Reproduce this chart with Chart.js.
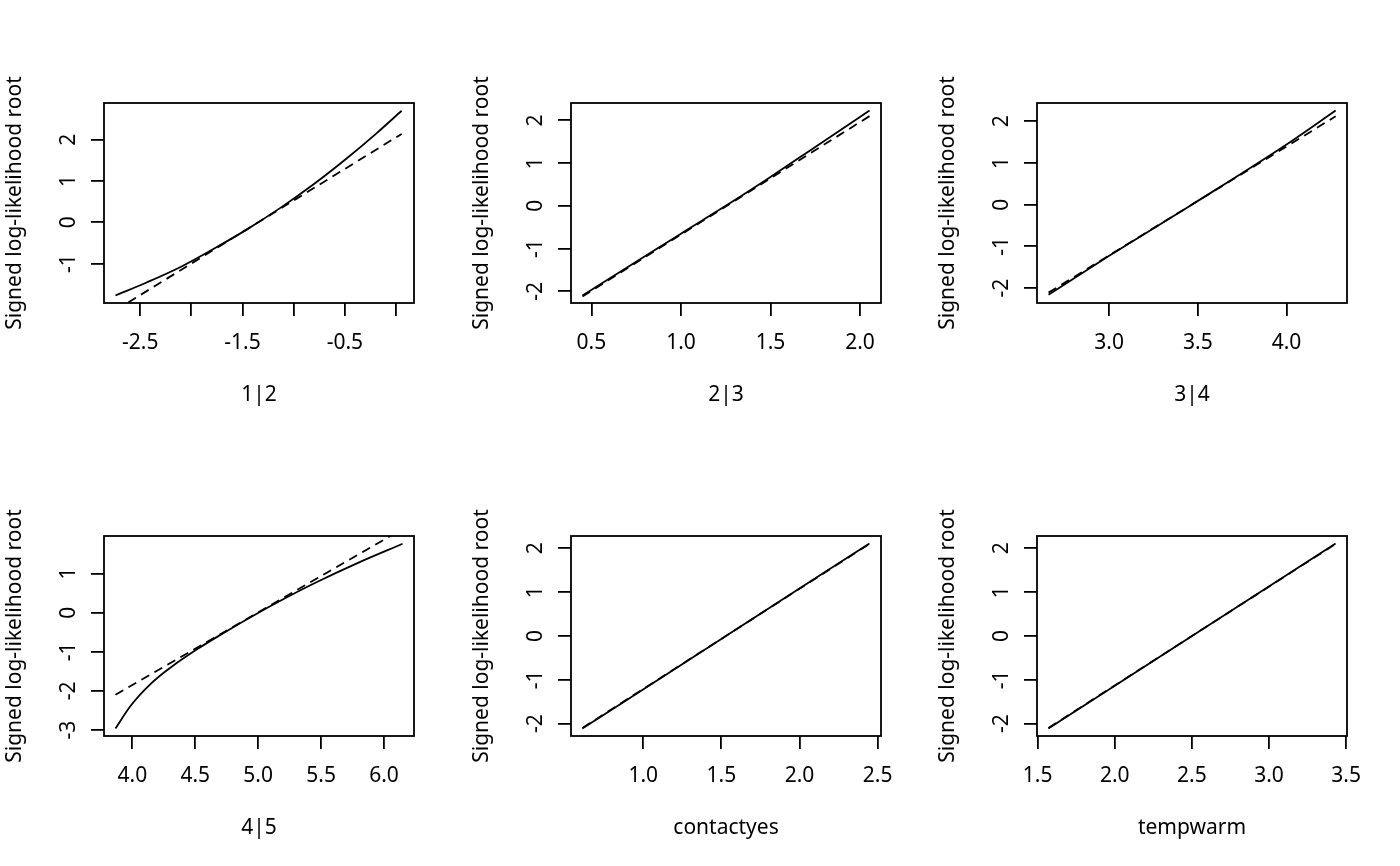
<!DOCTYPE html>
<html>
<head>
<meta charset="utf-8">
<script src="https://cdn.jsdelivr.net/npm/chart.js@4"></script>
<style>
  body { margin: 0; background: #fff; }
  #wrap { position: relative; width: 1400px; height: 866px; }
  #wrap canvas { position: absolute; }
</style>
</head>
<body>
<div id="wrap"></div>
<script>
// parameter names (one panel each)
const paramNames = ['1|2', '2|3', '3|4', '4|5', 'contactyes', 'tempwarm'];

// profile curves (solid)
const prof1X = [-2.742, -2.432, -2.106, -1.781, -1.456, -1.130, -0.805, -0.480, -0.188, 0.055];
const prof1Y = [-1.770, -1.450, -1.080, -0.640, -0.170, 0.350, 0.920, 1.550, 2.160, 2.700];
const prof2X = [0.450, 0.750, 1.000, 1.250, 1.500, 1.750, 2.053];
const prof2Y = [-2.100, -1.310, -0.650, 0.000, 0.675, 1.380, 2.233];
const prof3X = [2.658, 3.000, 3.466, 4.000, 4.277];
const prof3Y = [-2.160, -1.228, 0.000, 1.445, 2.260];
const prof4X = [3.866, 3.987, 4.146, 4.305, 4.517, 4.729, 4.967, 5.206, 5.471, 5.789, 6.147];
const prof4Y = [-2.960, -2.380, -1.820, -1.400, -0.930, -0.510, -0.063, 0.358, 0.793, 1.270, 1.764];
const prof5X = [0.610, 1.529, 2.448];
const prof5Y = [-2.114, 0.000, 2.112];
const prof6X = [1.570, 2.501, 3.432];
const prof6Y = [-2.110, 0.000, 2.110];

// quadratic (Wald) approximation (dashed)
const approx1X = [-2.742, 0.055];
const approx1Y = [-2.130, 2.140];
const approx2X = [0.450, 2.053];
const approx2Y = [-2.120, 2.100];
const approx3X = [2.658, 4.277];
const approx3Y = [-2.110, 2.120];
const approx4X = [3.866, 6.147];
const approx4Y = [-2.100, 2.140];
const approx5X = [0.610, 2.448];
const approx5Y = [-2.100, 2.100];
const approx6X = [1.570, 3.432];
const approx6Y = [-2.100, 2.100];

// axis ticks and labels
const xTicks = [
  [-2.5, -2, -1.5, -1, -0.5, 0],
  [0.5, 1, 1.5, 2],
  [3, 3.5, 4],
  [4, 4.5, 5, 5.5, 6],
  [1, 1.5, 2, 2.5],
  [1.5, 2, 2.5, 3, 3.5]
];
const xTickLabels = [
  ['-2.5', '', '-1.5', '', '-0.5', ''],
  ['0.5', '1.0', '1.5', '2.0'],
  ['3.0', '3.5', '4.0'],
  ['4.0', '4.5', '5.0', '5.5', '6.0'],
  ['1.0', '1.5', '2.0', '2.5'],
  ['1.5', '2.0', '2.5', '3.0', '3.5']
];
const yTicks = [
  [-1, 0, 1, 2],
  [-2, -1, 0, 1, 2],
  [-2, -1, 0, 1, 2],
  [-3, -2, -1, 0, 1],
  [-2, -1, 0, 1, 2],
  [-2, -1, 0, 1, 2]
];
const yTitle = 'Signed log-likelihood root';

// plot region ranges (as in the R device)
const xRanges = [[-2.854, 0.176], [0.386, 2.117], [2.593, 4.341], [3.775, 6.238], [0.537, 2.522], [1.496, 3.506]];
const yRanges = [[-1.952, 2.888], [-2.273, 2.407], [-2.359, 2.440], [-3.153, 1.962], [-2.283, 2.281], [-2.283, 2.281]];

const profX = [prof1X, prof2X, prof3X, prof4X, prof5X, prof6X];
const profY = [prof1Y, prof2Y, prof3Y, prof4Y, prof5Y, prof6Y];
const apprX = [approx1X, approx2X, approx3X, approx4X, approx5X, approx6X];
const apprY = [approx1Y, approx2Y, approx3Y, approx4Y, approx5Y, approx6Y];

Chart.defaults.font.family = "'Noto Sans', 'Open Sans', sans-serif";
Chart.defaults.font.size = 21;
Chart.defaults.color = '#000';

const LW = 1.8;

const boxPlugin = {
  id: 'box',
  afterDraw(chart) {
    const a = chart.chartArea;
    const ctx = chart.ctx;
    ctx.save();
    ctx.strokeStyle = '#000';
    ctx.lineWidth = LW;
    ctx.strokeRect(a.left, a.top, a.right - a.left, a.bottom - a.top);
    ctx.restore();
  }
};

function toPoints(xs, ys) {
  return xs.map((x, i) => ({x: x, y: ys[i]}));
}

const wrap = document.getElementById('wrap');
for (let i = 0; i < 6; i++) {
  const col = i % 3, row = Math.floor(i / 3);
  const cv = document.createElement('canvas');
  cv.width = 467;
  cv.height = 433;
  cv.style.left = Math.round(col * 466.67) + 'px';
  cv.style.top = (row * 433) + 'px';
  wrap.appendChild(cv);

  new Chart(cv, {
    type: 'scatter',
    data: {
      datasets: [{
        data: toPoints(profX[i], profY[i]),
        showLine: true,
        borderColor: '#000',
        borderWidth: LW,
        pointRadius: 0,
        cubicInterpolationMode: 'monotone'
      }, {
        data: toPoints(apprX[i], apprY[i]),
        showLine: true,
        borderColor: '#000',
        borderWidth: LW,
        borderDash: [9, 6],
        pointRadius: 0
      }]
    },
    options: {
      responsive: false,
      animation: false,
      layout: { padding: { left: 0, top: 103, right: 53, bottom: 0 } },
      plugins: { legend: { display: false }, tooltip: { enabled: false } },
      scales: {
        x: {
          type: 'linear',
          position: 'bottom',
          min: xRanges[i][0],
          max: xRanges[i][1],
          afterBuildTicks: s => { s.ticks = xTicks[i].map(v => ({value: v})); },
          afterFit: s => { s.height = 130; },
          ticks: {
            autoSkip: false,
            maxRotation: 0,
            padding: 14.5,
            callback: (v, idx) => xTickLabels[i][idx]
          },
          grid: { drawOnChartArea: false, drawTicks: true, tickLength: 13, color: '#000', lineWidth: LW },
          border: { display: false },
          title: { display: true, text: paramNames[i], padding: { top: 0, bottom: 25 } }
        },
        y: {
          type: 'linear',
          position: 'left',
          min: yRanges[i][0],
          max: yRanges[i][1],
          afterBuildTicks: s => { s.ticks = yTicks[i].map(v => ({value: v})); },
          afterFit: s => { s.width = 104; },
          ticks: {
            autoSkip: false,
            minRotation: 90,
            maxRotation: 90,
            crossAlign: 'center',
            padding: 12.6,
            callback: v => String(v)
          },
          grid: { drawOnChartArea: false, drawTicks: true, tickLength: 13, color: '#000', lineWidth: LW },
          border: { display: false },
          title: { display: true, text: yTitle, padding: { top: 2, bottom: 0 } }
        }
      }
    },
    plugins: [boxPlugin]
  });
}
</script>
</body>
</html>
